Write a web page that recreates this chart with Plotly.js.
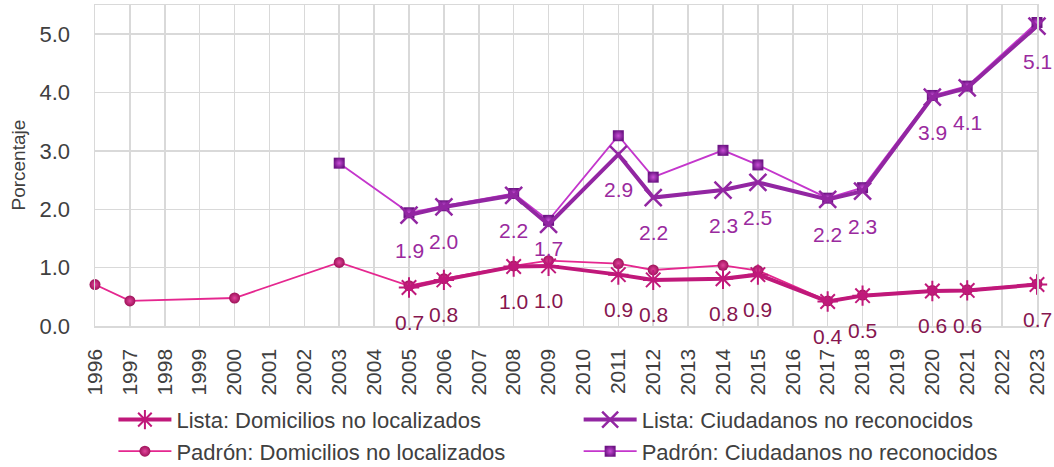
<!DOCTYPE html>
<html>
<head>
<meta charset="utf-8">
<script src="https://cdn.plot.ly/plotly-3.0.1.min.js"></script>
<style>html,body{margin:0;padding:0;background:#fff;}#chart{width:1054px;height:467px;}</style>
</head>
<body>
<div id="chart"></div>
<script>
// ---- data ----
const yearsListaDom = [2005, 2006, 2008, 2009, 2011, 2012, 2014, 2015, 2017, 2018, 2020, 2021, 2023];
const listaDom      = [0.66, 0.79, 1.02, 1.03, 0.88, 0.79, 0.81, 0.88, 0.42, 0.52, 0.60, 0.61, 0.71];

const yearsListaCiud = [2005, 2006, 2008, 2009, 2011, 2012, 2014, 2015, 2017, 2018, 2020, 2021, 2023];
const listaCiud      = [1.90, 2.04, 2.24, 1.74, 2.94, 2.20, 2.33, 2.46, 2.17, 2.31, 3.92, 4.08, 5.14];

const yearsPadronDom = [1996, 1997, 2000, 2003, 2005, 2006, 2008, 2009, 2011, 2012, 2014, 2015, 2017, 2018, 2020, 2021, 2023];
const padronDom      = [0.71, 0.43, 0.48, 1.09, 0.69, 0.81, 1.03, 1.12, 1.07, 0.96, 1.04, 0.95, 0.43, 0.53, 0.61, 0.62, 0.72];

const yearsPadronCiud = [2003, 2005, 2006, 2008, 2009, 2011, 2012, 2014, 2015, 2017, 2018, 2020, 2021, 2023];
const padronCiud      = [2.79, 1.94, 2.06, 2.27, 1.81, 3.26, 2.55, 3.01, 2.76, 2.19, 2.37, 3.95, 4.11, 5.20];

const seriesNames = [
  "Lista: Domicilios no localizados",
  "Lista: Ciudadanos no reconocidos",
  "Padrón: Domicilios no localizados",
  "Padrón: Ciudadanos no reconocidos"
];
const yAxisTitle = "Porcentaje";

// ---- styling ----
const FONT = "'Liberation Sans Narrow', 'Arial Narrow', 'Liberation Sans', Arial, sans-serif";
const GRAY = "#404040";
const GRID = "#D9D9D9";

const traces = [
  {
    x: yearsPadronDom, y: padronDom, name: seriesNames[2], legend: "legend", legendrank: 2,
    type: "scatter", mode: "lines+markers", cliponaxis: false,
    line: {color: "#E5278F", width: 1.8},
    marker: {symbol: "circle", size: 11, color: "#9E1259", gradient: {type: "radial", color: "#E2459C"}, line: {width: 0}}
  },
  {
    x: yearsPadronCiud, y: padronCiud, name: seriesNames[3], legend: "legend2", legendrank: 2,
    type: "scatter", mode: "lines+markers", cliponaxis: false,
    line: {color: "#C436CC", width: 1.8},
    marker: {symbol: "square", size: 11, color: "#6E1485", gradient: {type: "radial", color: "#C94FD6"}, line: {width: 0}}
  },
  {
    x: yearsListaDom, y: listaDom, name: seriesNames[0], legend: "legend", legendrank: 1,
    type: "scatter", mode: "lines+markers", cliponaxis: false,
    line: {color: "#C0187A", width: 4},
    marker: {symbol: "asterisk-open", size: 17, color: "#C0187A", line: {color: "#C0187A", width: 2}}
  },
  {
    x: yearsListaCiud, y: listaCiud, name: seriesNames[1], legend: "legend2", legendrank: 1,
    type: "scatter", mode: "lines+markers", cliponaxis: false,
    line: {color: "#9226A2", width: 4},
    marker: {symbol: "x-thin-open", size: 17, color: "#9226A2", line: {color: "#9226A2", width: 2.5}}
  }
];

// data labels (below Lista points)
const annotations = [];
const defaultShift = -35;
const shiftOverride = {"ciud-2009": -24};
function addLabels(xs, ys, key, color) {
  xs.forEach((x, i) => {
    const k = key + "-" + x;
    annotations.push({
      x: x, y: ys[i], xref: "x", yref: "y",
      text: ys[i].toFixed(1), showarrow: false,
      yshift: (k in shiftOverride) ? shiftOverride[k] : defaultShift,
      font: {family: FONT, size: 21, color: color}
    });
  });
}
addLabels(yearsListaDom, listaDom, "dom", "#86164F");
addLabels(yearsListaCiud, listaCiud, "ciud", "#9A2A9E");

// y-axis title drawn as a rotated annotation
annotations.push({
  xref: "paper", yref: "paper", x: -0.0817, y: 0.5,
  xanchor: "center", yanchor: "middle",
  text: yAxisTitle, textangle: -90, showarrow: false,
  font: {family: FONT, size: 19, color: GRAY}
});

const legendCommon = {
  orientation: "v", xref: "container", yref: "container",
  xanchor: "left", yanchor: "top", y: 0.146,
  itemwidth: 53, tracegroupgap: 0, traceorder: "normal",
  font: {family: FONT, size: 22, color: GRAY},
  bgcolor: "rgba(0,0,0,0)"
};

const layout = {
  width: 1054, height: 467,
  margin: {l: 95, r: 17, t: 5, b: 141, autoexpand: false},
  paper_bgcolor: "#fff", plot_bgcolor: "#fff",
  font: {family: FONT, size: 22, color: GRAY},
  showlegend: true,
  legend: Object.assign({}, legendCommon, {x: 0.1076}),
  legend2: Object.assign({}, legendCommon, {x: 0.549}),
  xaxis: {
    type: "linear", range: [1996, 2023], dtick: 1, tick0: 1996,
    tickangle: -90, tickfont: {family: FONT, size: 21, color: GRAY},
    showgrid: true, gridcolor: GRID, gridwidth: 1.5,
    showline: true, linecolor: GRID, linewidth: 1.5, mirror: true,
    zeroline: false, ticks: "", ticklabelstandoff: 13
  },
  yaxis: {
    range: [0, 5.5], dtick: 1, tick0: 0, tickformat: ".1f",
    tickfont: {family: FONT, size: 22, color: GRAY},
    showgrid: true, gridcolor: GRID, gridwidth: 1.5,
    showline: true, linecolor: GRID, linewidth: 1.5, mirror: true,
    zeroline: false, ticks: "", ticklabelstandoff: 19
  },
  annotations: annotations
};

Plotly.newPlot("chart", traces, layout, {displayModeBar: false, staticPlot: true});
</script>
</body>
</html>
